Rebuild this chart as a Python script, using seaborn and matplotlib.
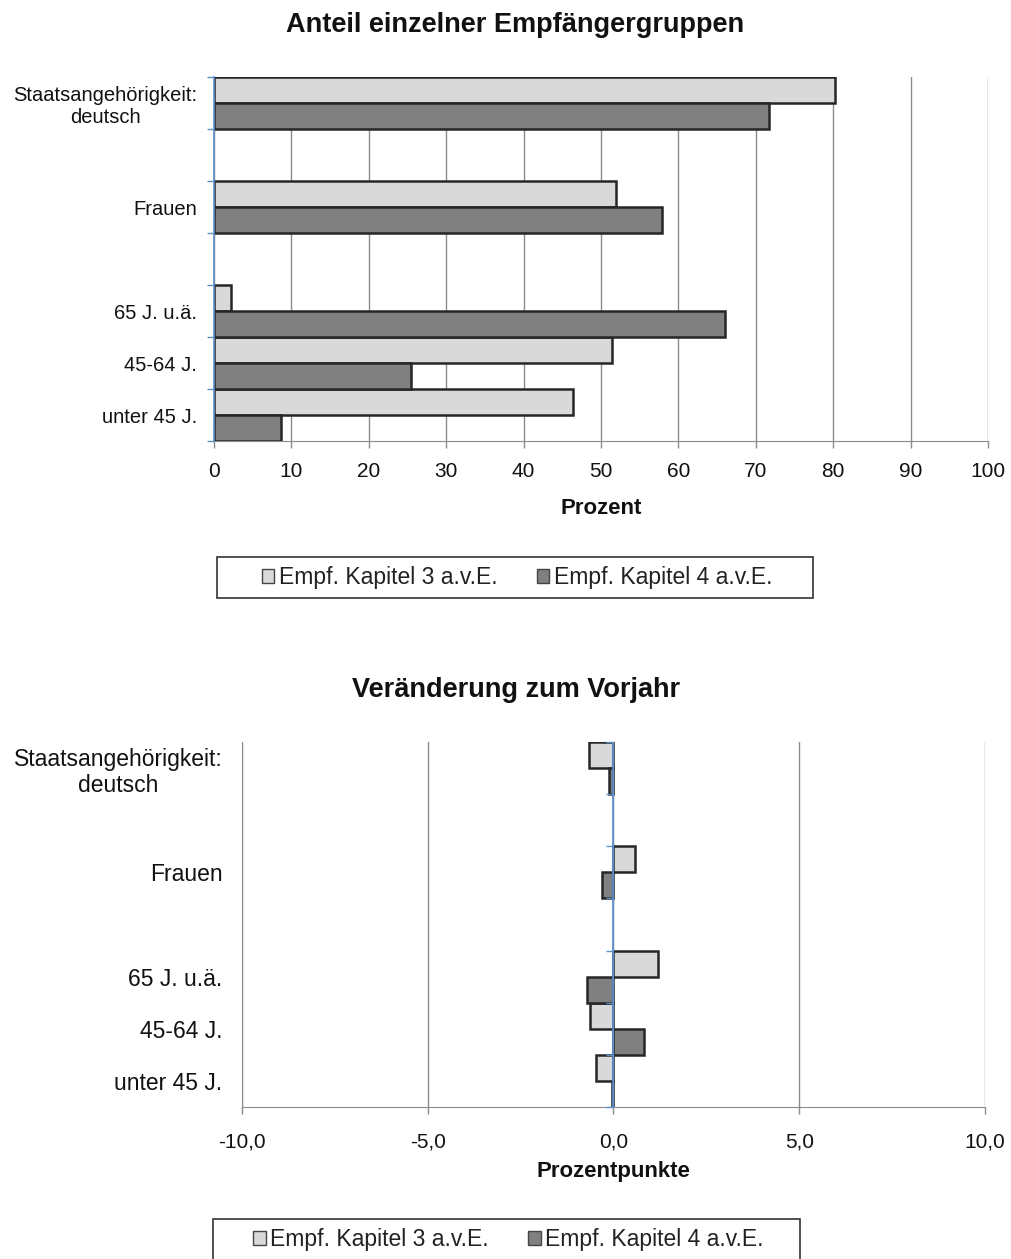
#!/usr/bin/env python3
import matplotlib
matplotlib.use('Agg')
import matplotlib.pyplot as plt
from matplotlib.patches import Patch, Rectangle
from matplotlib.ticker import FuncFormatter
import seaborn as sns
import numpy as np
import pandas as pd

# slots from top to bottom, the two gaps are empty slots
slots = ['deutsch', 'gap1', 'Frauen', 'gap2', '65', '45-64', 'u45']
slot_labels = ['Staatsangehörigkeit:\ndeutsch', '', 'Frauen', '', '65 J. u.ä.', '45-64 J.', 'unter 45 J.']
groups = ['deutsch', 'Frauen', '65', '45-64', 'u45']
series = ['Empf. Kapitel 3 a.v.E.', 'Empf. Kapitel 4 a.v.E.']

anteil_k3 = [80.2, 51.9, 2.2, 51.4, 46.4]
anteil_k4 = [71.7, 57.9, 66.0, 25.4, 8.7]
diff_k3 = [-0.67, 0.58, 1.21, -0.63, -0.48]
diff_k4 = [-0.11, -0.30, -0.70, 0.83, -0.04]

colors = ['#d9d9d9', '#808080']
edge = '#262626'
blue = '#5b8fc9'
grid = '#8c8c8c'
ink = '#111111'


def long_df(k3, k4):
    return pd.DataFrame({
        'group': groups * 2,
        'series': [series[0]] * len(groups) + [series[1]] * len(groups),
        'value': k3 + k4,
    })


sns.set_style('white')
plt.rcParams['font.family'] = ['Liberation Sans', 'DejaVu Sans']

fig = plt.figure(figsize=(10.12, 12.59), dpi=100)
ax1 = fig.add_axes([0.2115, 0.6497, 0.7648, 0.2890])
ax2 = fig.add_axes([0.2391, 0.1207, 0.7342, 0.2900])

bounds = np.arange(len(slots) + 1) - 0.5

for ax, (k3, k4) in [(ax1, (anteil_k3, anteil_k4)), (ax2, (diff_k3, diff_k4))]:
    sns.barplot(data=long_df(k3, k4), y='group', x='value', hue='series',
                order=slots, hue_order=series, orient='h', width=1.0, gap=0,
                palette=colors, edgecolor=edge, linewidth=1.8, legend=False,
                ax=ax, zorder=3)
    ax.set_ylim(len(slots) - 0.5, -0.5)
    ax.set_ylabel('')
    for s in ['top', 'right']:
        ax.spines[s].set_visible(False)
    ax.spines['bottom'].set_color(grid)
    ax.tick_params(axis='x', bottom=True, colors=grid, length=5, width=1, direction='out')
    ax.grid(axis='x', color=grid, linewidth=1, zorder=0)
    ax.grid(axis='y', visible=False)
    ax.set_axisbelow(True)

# top chart
ax1.set_xlim(0, 100)
ax1.set_xticks(np.arange(0, 101, 10))
ax1.set_xticklabels([str(v) for v in range(0, 101, 10)], color=ink, fontsize=15)
ax1.tick_params(axis='x', pad=10)
ax1.spines['left'].set_color(blue)
ax1.spines['left'].set_linewidth(1.2)
ax1.spines['left'].set_zorder(5)
ax1.set_yticks(bounds)
ax1.set_yticklabels([])
ax1.tick_params(axis='y', which='major', left=True, colors=blue, length=5, width=1)
ax1.set_yticks(range(len(slots)), minor=True)
ax1.set_yticklabels(slot_labels, minor=True, fontsize=14.5, color=ink,
                    multialignment='center')
ax1.tick_params(axis='y', which='minor', left=True, length=0, pad=12)
ax1.set_xlabel('Prozent', fontsize=16, fontweight='bold', color=ink, labelpad=12)

# bottom chart
ax2.set_xlim(-10, 10)
ax2.set_xticks([-10, -5, 0, 5, 10])
ax2.xaxis.set_major_formatter(FuncFormatter(lambda v, p: f'{v:.1f}'.replace('.', ',')))
ax2.tick_params(axis='x', labelsize=15, labelcolor=ink, pad=13)
ax2.spines['left'].set_color(grid)
ax2.set_yticks(range(len(slots)))
ax2.set_yticklabels(slot_labels, fontsize=16.5, color=ink, multialignment='center')
ax2.tick_params(axis='y', length=0, pad=14)
ax2.axvline(0, color=blue, linewidth=1.2, zorder=5)
zero = ax2.secondary_yaxis(0.5)
zero.set_zorder(6)
for s in zero.spines.values():
    s.set_color(blue)
zero.set_yticks(bounds)
zero.set_yticklabels([])
zero.tick_params(colors=blue, length=5, width=1, direction='in')
ax2.set_xlabel('Prozentpunkte', fontsize=16, fontweight='bold', color=ink, labelpad=7)

# titles, centred on the page
fig.text(0.509, 0.980, 'Anteil einzelner Empfängergruppen', ha='center', va='center',
         fontsize=19.5, fontweight='bold', color=ink)
fig.text(0.510, 0.452, 'Veränderung zum Vorjahr', ha='center', va='center',
         fontsize=19.5, fontweight='bold', color=ink)

# legends with a separate square frame
W, H = 1012, 1259
handles = [Patch(facecolor=c, edgecolor='#444444', linewidth=1) for c in colors]
for (x0, x1, ytop, ybot) in [(217, 813, 557, 598), (213, 800, 1219, 1260)]:
    fig.patches.append(Rectangle((x0 / W, 1 - ybot / H), (x1 - x0) / W, (ybot - ytop) / H,
                                 transform=fig.transFigure, facecolor='white',
                                 edgecolor='#333333', linewidth=1.2, zorder=0))
    cx = (x0 + x1) / 2 / W + 0.002
    cy = 1 - (ytop + ybot) / 2 / H
    leg = fig.legend(handles, series, loc='center', bbox_to_anchor=(cx, cy), ncol=2,
                     fontsize=16.5, frameon=False, handlelength=0.55, handleheight=0.55,
                     handletextpad=0.2, columnspacing=1.7, borderpad=0.2)
    for t in leg.get_texts():
        t.set_color('#222222')

fig.savefig('out.png', dpi=100)
plt.close(fig)
